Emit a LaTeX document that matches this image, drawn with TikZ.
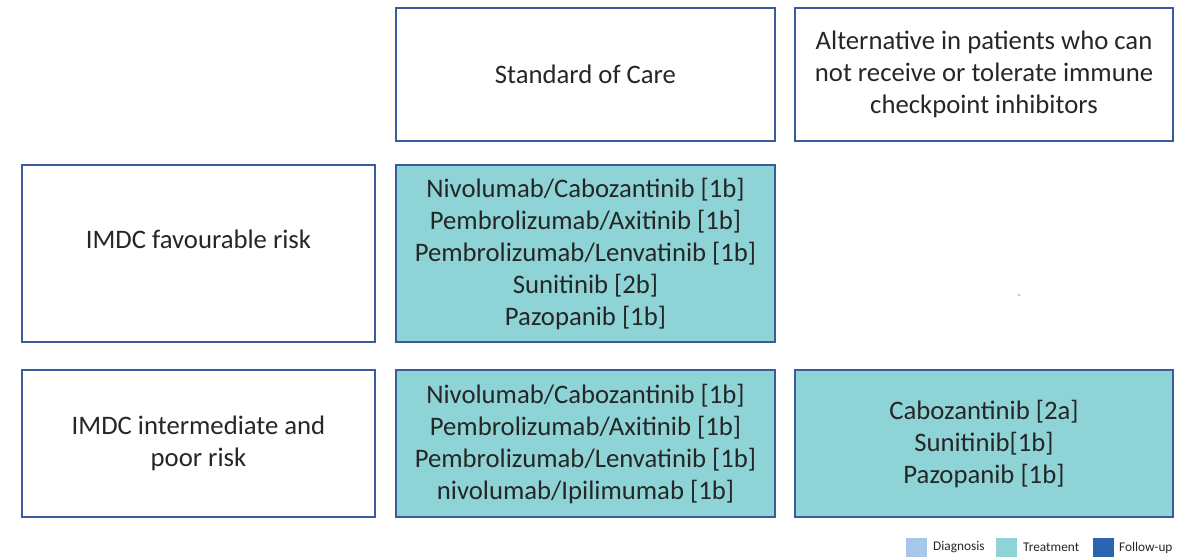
\documentclass[tikz,border=0pt]{standalone}
\usepackage{fontspec}
\setmainfont{Carlito}
\definecolor{edgeblue}{HTML}{3A5C9C}
\definecolor{treat}{HTML}{8ED4D6}
\definecolor{diag}{HTML}{A8C8EA}
\definecolor{follow}{HTML}{2A64B2}
\definecolor{txt}{HTML}{262626}
\tikzset{
  cell/.style={draw=edgeblue, line width=2.6pt, rectangle, align=center, text=txt,
    font=\fontsize{26.7}{32}\selectfont, inner sep=0pt},
  treatcell/.style={cell, fill=treat},
  celltext/.style={align=center, text=txt, font=\fontsize{26.7}{32}\selectfont, inner sep=0pt},
  key/.style={rectangle, minimum width=21pt, minimum height=19pt, inner sep=0pt},
  keytext/.style={anchor=west, font=\fontsize{13.3}{15}\selectfont, text=txt, inner sep=0pt}
}
\begin{document}
\begin{tikzpicture}[x=1pt,y=-1pt]
\useasboundingbox (0,0) rectangle (1197,557);
% column headers
\node[cell, minimum width=379pt, minimum height=133pt] (soc) at (585.5,74.5) {Standard of Care};
\node[cell, minimum width=378pt, minimum height=133pt] (alt) at (984,74.5)
  {Alternative in patients who can\\not receive or tolerate immune\\checkpoint inhibitors};
% favourable risk row
\node[cell, minimum width=353pt, minimum height=177pt] (fav) at (198.5,253.5) {};
\node[celltext] (favtext) at (198.5,239) {IMDC favourable risk};
\node[treatcell, minimum width=379pt, minimum height=177pt] (favsoc) at (585.5,253.5)
  {Nivolumab/Cabozantinib [1b]\\Pembrolizumab/Axitinib [1b]\\Pembrolizumab/Lenvatinib [1b]\\Sunitinib [2b]\\Pazopanib [1b]};
% intermediate and poor risk row
\node[cell, minimum width=353pt, minimum height=147pt] (poor) at (198.5,443.5) {IMDC intermediate and\\poor risk};
\node[treatcell, minimum width=379pt, minimum height=147pt] (poorsoc) at (585.5,443.5)
  {Nivolumab/Cabozantinib [1b]\\Pembrolizumab/Axitinib [1b]\\Pembrolizumab/Lenvatinib [1b]\\nivolumab/Ipilimumab [1b]};
\node[treatcell, minimum width=378pt, minimum height=147pt] (pooralt) at (984,443.5)
  {Cabozantinib [2a]\\Sunitinib[1b]\\Pazopanib [1b]};
% stray mark
\fill[red!35] (1019,295) circle (1.3pt);
% legend
\node[key, fill=diag] (kd) at (916.5,547.5) {};
\node[keytext] (td) at (933,547.5) {Diagnosis};
\node[key, fill=treat] (kt) at (1006,547.5) {};
\node[keytext] (tt) at (1023,547.5) {Treatment};
\node[key, fill=follow] (kf) at (1103.5,547.5) {};
\node[keytext] (tf) at (1119,547.5) {Follow-up};
\end{tikzpicture}
\end{document}
